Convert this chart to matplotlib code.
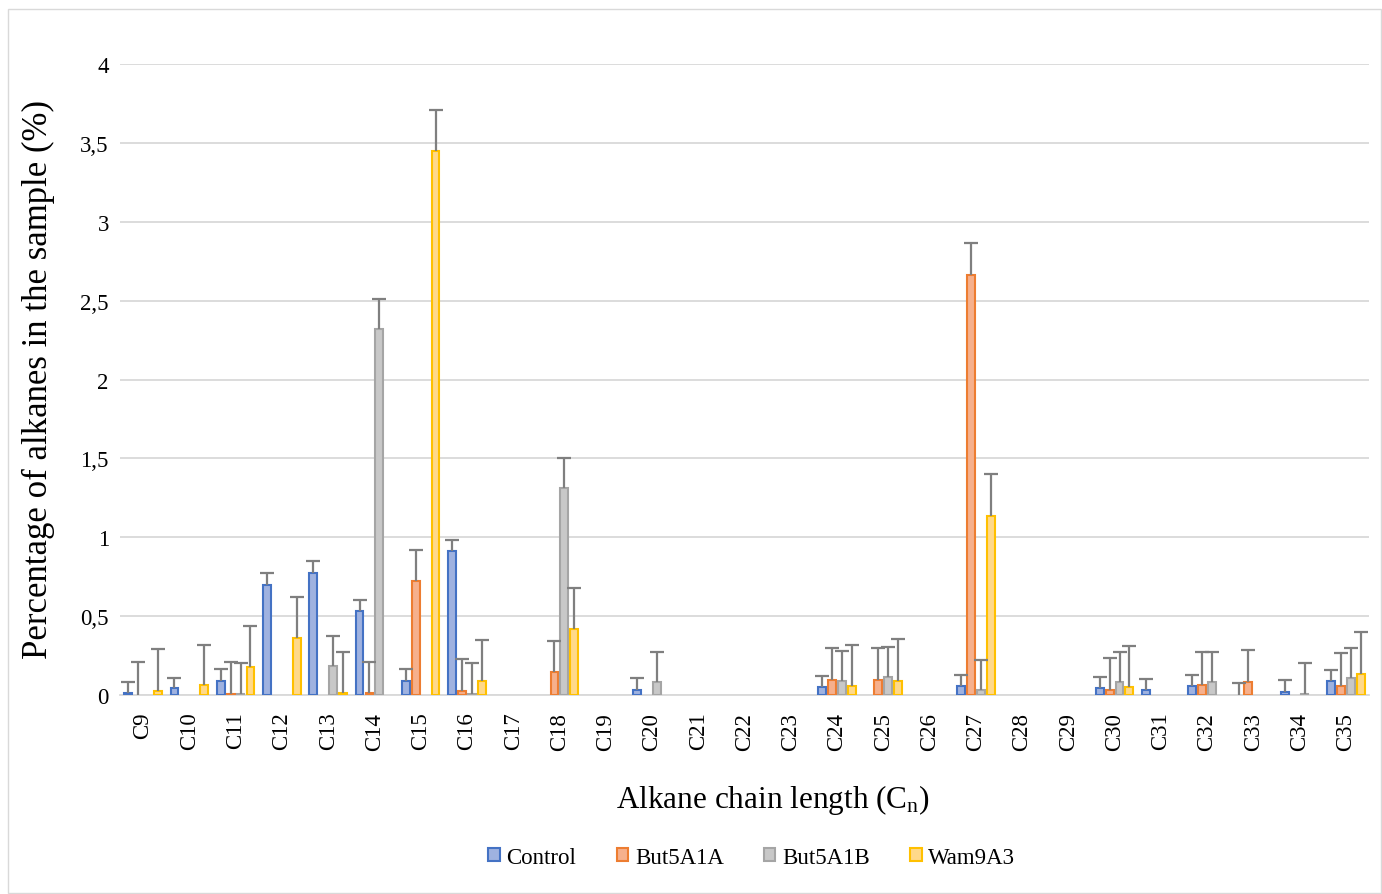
import numpy as np
import matplotlib
matplotlib.use("Agg")
import matplotlib.pyplot as plt
import matplotlib.patches as patches

plt.rcParams['font.family'] = ['Liberation Serif', 'DejaVu Serif']
plt.rcParams['mathtext.default'] = 'regular'

categories = ["C%d" % n for n in range(9, 36)]
series_names = ["Control", "But5A1A", "But5A1B", "Wam9A3"]

control = [0.01, 0.045, 0.09, 0.70, 0.775, 0.53, 0.09, 0.915, 0, 0, 0, 0.035, 0, 0, 0,
           0.05, 0, 0, 0.055, 0, 0, 0.045, 0.03, 0.055, 0, 0.02, 0.09]
control_err = [0.07, 0.065, 0.075, 0.075, 0.075, 0.07, 0.075, 0.07, 0, 0, 0, 0.075, 0, 0, 0,
               0.07, 0, 0, 0.075, 0, 0, 0.07, 0.07, 0.07, 0.075, 0.075, 0.07]

but5a1a = [0, 0, 0.005, 0, 0, 0.01, 0.72, 0.025, 0, 0.145, 0, 0, 0, 0, 0,
           0.095, 0.095, 0, 2.66, 0, 0, 0.03, 0, 0.065, 0.085, 0, 0.06]
but5a1a_err = [0.21, 0, 0.205, 0, 0, 0.20, 0.20, 0.205, 0, 0.20, 0, 0, 0, 0, 0,
               0.205, 0.205, 0, 0.205, 0, 0, 0.205, 0, 0.205, 0.20, 0, 0.205]

but5a1b = [0, 0, 0.005, 0, 0.185, 2.32, 0, 0.005, 0, 1.315, 0, 0.085, 0, 0, 0,
           0.09, 0.115, 0, 0.03, 0, 0, 0.085, 0, 0.08, 0, 0.005, 0.11]
but5a1b_err = [0, 0, 0.195, 0, 0.19, 0.19, 0, 0.20, 0, 0.185, 0, 0.19, 0, 0, 0,
               0.19, 0.19, 0, 0.19, 0, 0, 0.19, 0, 0.19, 0, 0.195, 0.19]

wam9a3 = [0.025, 0.065, 0.175, 0.36, 0.01, 0, 3.45, 0.09, 0, 0.42, 0, 0, 0, 0, 0,
          0.055, 0.09, 0, 1.135, 0, 0, 0.05, 0, 0, 0, 0, 0.135]
wam9a3_err = [0.265, 0.255, 0.26, 0.26, 0.26, 0, 0.26, 0.26, 0, 0.26, 0, 0, 0, 0, 0,
              0.265, 0.265, 0, 0.265, 0, 0, 0.26, 0, 0, 0, 0, 0.265]

values = [control, but5a1a, but5a1b, wam9a3]
errors = [control_err, but5a1a_err, but5a1b_err, wam9a3_err]
faces = ["#9fb2e0", "#f6b08c", "#c8c8c8", "#ffd98a"]
edges = ["#4472c4", "#ed7d31", "#a5a5a5", "#ffc000"]

fig = plt.figure(figsize=(13.82, 8.95), dpi=100)
ax = fig.add_axes([0.0868, 0.2223, 0.9038, 0.7051])

x = np.arange(len(categories))
step = 0.214
width = 0.17
for i in range(4):
    xs = x + (i - 1.5) * step
    v = np.array(values[i])
    e = np.array(errors[i])
    b = v > 0
    # skip empty bars so no edge line shows on the baseline
    ax.bar(xs[b], v[b], width, color=faces[i], edgecolor=edges[i], linewidth=1.5, zorder=3)
    m = e > 0
    eb = ax.errorbar(xs[m], v[m], yerr=[np.zeros(m.sum()), e[m]], fmt='none',
                     ecolor="#7f7f7f", elinewidth=1.6, capsize=5, capthick=1.6, zorder=4)
    eb[1][0].set_visible(False)  # only the upper cap

ax.set_xlim(-0.5, len(categories) - 0.5)
ax.set_ylim(0, 4)
ax.set_yticks(np.arange(0, 4.01, 0.5))
ax.set_yticklabels(["0", "0,5", "1", "1,5", "2", "2,5", "3", "3,5", "4"])
ax.set_xticks(x)
ax.set_xticklabels(categories, rotation=90)
ax.tick_params(axis='both', length=0, labelsize=16.5)
ax.tick_params(axis='y', pad=8)
ax.tick_params(axis='x', pad=12)
ax.grid(axis='y', color="#d9d9d9", linewidth=1.3, zorder=0)
ax.set_axisbelow(True)
for s in ["top", "right", "left"]:
    ax.spines[s].set_visible(False)
ax.spines["bottom"].set_color("#d9d9d9")
ax.spines["bottom"].set_linewidth(1.3)

fig.text(0.559, 0.106, "Alkane chain length (C$_n$)", ha='center', va='center', fontsize=22.5)
fig.text(0.0275, 0.5765, "Percentage of alkanes in the sample (%)", ha='center', va='center',
         rotation=90, fontsize=25)

handles = [patches.Patch(facecolor=faces[i], edgecolor=edges[i], linewidth=1.5, label=series_names[i])
           for i in range(4)]
fig.legend(handles=handles, loc='center', bbox_to_anchor=(0.544, 0.041), ncol=4, frameon=False,
           fontsize=16.5, handlelength=0.5, handleheight=0.5, handletextpad=0.3, columnspacing=1.75)

fig.add_artist(patches.Rectangle((0.006, 0.001), 0.993, 0.988, transform=fig.transFigure,
                                 fill=False, edgecolor="#d9d9d9", linewidth=1))

fig.savefig("out.png", dpi=100)
